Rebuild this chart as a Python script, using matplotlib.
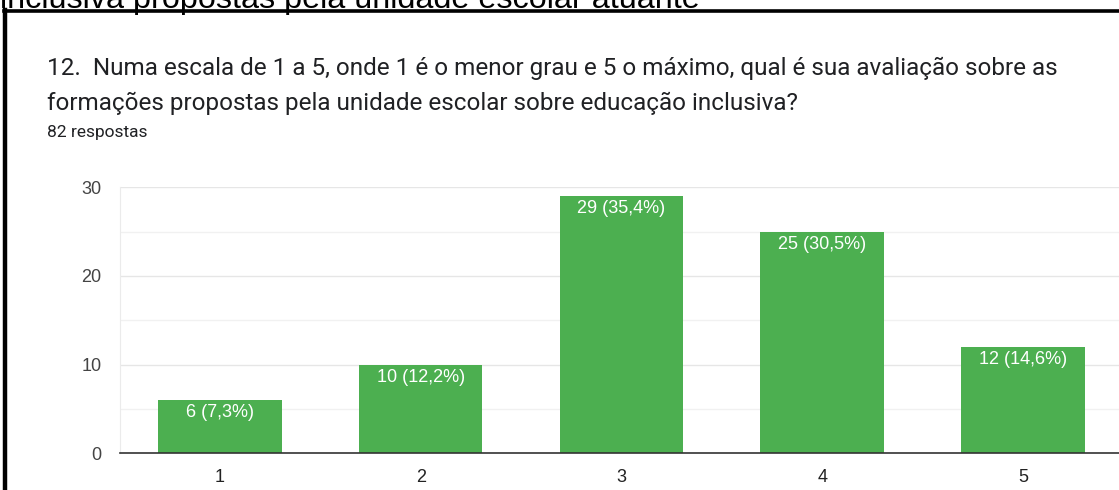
import matplotlib
matplotlib.use("Agg")
import matplotlib.pyplot as plt
from matplotlib.lines import Line2D
from matplotlib.ticker import MultipleLocator

# data
categories = ["1", "2", "3", "4", "5"]
counts = [6, 10, 29, 25, 12]
bar_labels = ["6 (7,3%)", "10 (12,2%)", "29 (35,4%)", "25 (30,5%)", "12 (14,6%)"]
y_ticks = [0, 10, 20, 30]

W, H = 1119, 490
GREEN = "#4caf50"


def fx(px):
    return px / W


def fy(py):
    return 1 - py / H


fig = plt.figure(figsize=(W / 100, H / 100), dpi=100)
fig.patch.set_facecolor("white")

# text cut off at the top of the screenshot
fig.text(fx(0), fy(8), "inclusiva propostas pela unidade escolar atuante",
         fontsize=23.3, family="Liberation Sans", color="black", va="baseline", ha="left")

# black frame of the card
fig.add_artist(Line2D([fx(5), fx(5)], [fy(10), fy(495)], color="black", lw=3.2,
                      transform=fig.transFigure))
fig.add_artist(Line2D([fx(3.5), fx(1125)], [fy(11.5), fy(11.5)], color="black", lw=2.6,
                      transform=fig.transFigure))

# question title
fig.text(fx(47), fy(75), "12.  Numa escala de 1 a 5, onde 1 é o menor grau e 5 o máximo, qual é sua avaliação sobre as",
         fontsize=17.5, family="Roboto", color="#202124", va="baseline")
fig.text(fx(47), fy(110), "formações propostas pela unidade escolar sobre educação inclusiva?",
         fontsize=17.5, family="Roboto", color="#202124", va="baseline")
fig.text(fx(47), fy(137), "82 respostas", fontsize=12.5, family="Roboto", color="#202124",
         va="baseline")

# chart area
left_px, top_px, bottom_px = 119.6, 187.3, 453.3
ax = fig.add_axes([fx(left_px), 1 - bottom_px / H, 1003.75 / W, (bottom_px - top_px) / H])
x = list(range(1, len(categories) + 1))
bars = ax.bar(x, counts, width=0.615, color=GREEN, zorder=3)
ax.set_xlim(0.5, 5.5)
ax.set_ylim(0, 30)

ax.yaxis.set_major_locator(MultipleLocator(10))
ax.yaxis.set_minor_locator(MultipleLocator(5))
ax.set_yticks(y_ticks)
ax.grid(axis="y", which="major", color="#e6e6e6", lw=1.0, zorder=0)
ax.grid(axis="y", which="minor", color="#f1f1f1", lw=1.0, zorder=0)
ax.set_xticks(x)
ax.set_xticklabels(categories)
ax.tick_params(axis="both", which="both", length=0)
ax.tick_params(axis="both", labelsize=13, labelcolor="#444444")
ax.tick_params(axis="x", pad=11, labelcolor="#222222")
ax.tick_params(axis="y", pad=13)
for lab in ax.get_xticklabels() + ax.get_yticklabels():
    lab.set_family("Liberation Sans")

for side in ["top", "right"]:
    ax.spines[side].set_visible(False)
ax.spines["left"].set_color("#ebebeb")
ax.spines["left"].set_linewidth(0.8)
ax.spines["bottom"].set_color("#333333")
ax.spines["bottom"].set_linewidth(1.2)
ax.spines["bottom"].set_zorder(4)

for b, lab in zip(bars, bar_labels):
    ax.annotate(lab, (b.get_x() + b.get_width() / 2, b.get_height()),
                xytext=(0, -3), textcoords="offset points", ha="center", va="top",
                color="white", fontsize=13, family="Liberation Sans", zorder=5)

fig.savefig("out.png", dpi=100)
